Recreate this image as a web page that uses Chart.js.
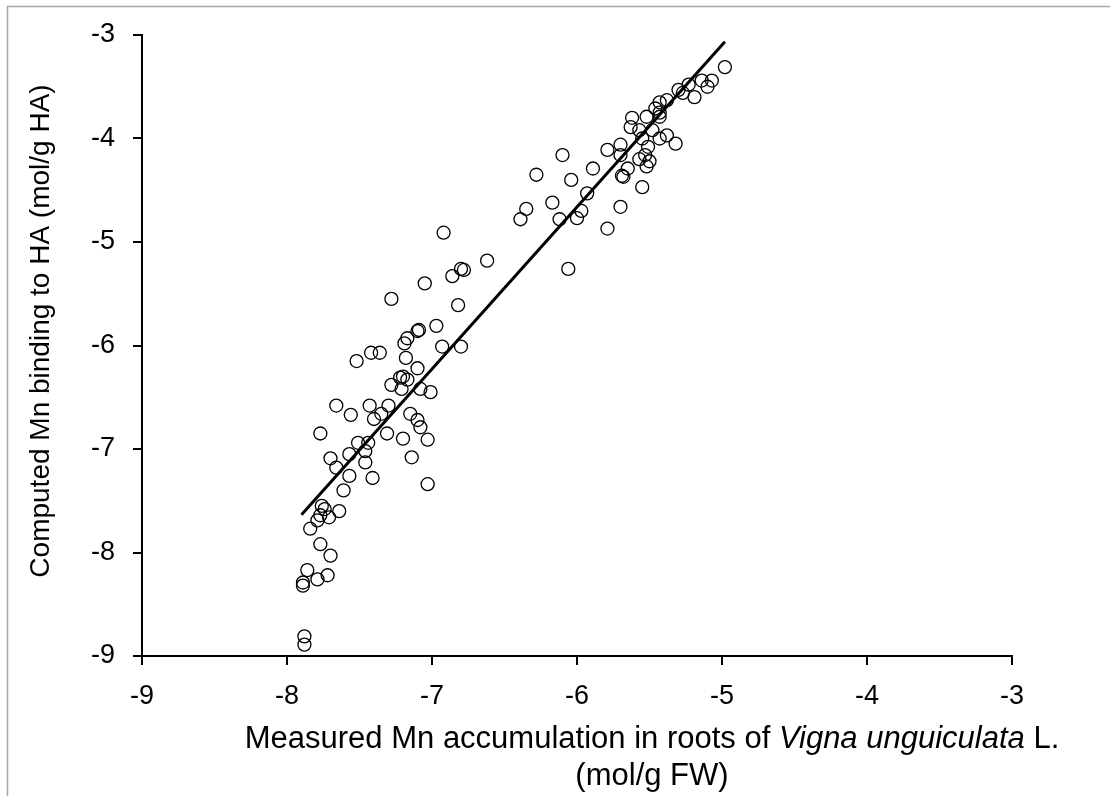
<!DOCTYPE html>
<html>
<head>
<meta charset="utf-8">
<script src="https://cdn.jsdelivr.net/npm/chart.js@4/dist/chart.umd.min.js"></script>
<style>
  html,body{margin:0;padding:0;background:#fff;}
  #wrap{width:1110px;height:796px;position:relative;}
</style>
</head>
<body>
<div id="wrap"><canvas id="chart" width="1110" height="796"></canvas></div>
<script>
// measured Mn in roots (log mol/g FW) vs computed Mn bound to HA (log mol/g HA)
const measured = [
  -7.88,-7.88,-7.89,-7.89,-7.86,-7.79,-7.72,-7.70,-7.77,-7.84,-7.79,-7.77,-7.76,-7.74,-7.71,-7.64,
  -7.61,-7.57,-7.41,-7.66,-7.46,-7.14,-7.70,-7.57,-7.46,-7.51,-7.44,-7.20,-7.03,-7.03,-7.77,-7.31,
  -7.08,-7.10,-7.15,-7.40,-7.35,-7.56,-7.66,-7.43,-7.30,-7.01,-7.08,-7.21,-7.28,-7.22,-7.20,-7.17,
  -7.10,-7.52,-7.18,-7.42,-7.36,-6.93,-6.80,-7.19,-7.17,-7.09,-7.10,-6.97,-6.82,-7.28,-7.05,-6.86,
  -6.80,-6.78,-6.62,-6.92,
  -6.06,-6.35,-6.39,-6.17,-6.12,-5.97,-6.00,-5.70,-5.79,-6.10,-6.28,-6.04,-5.89,-5.93,-5.55,-5.79,
  -5.70,-5.70,-5.65,-5.69,-5.68,-5.53,-5.57,-5.50,-5.52,-5.51,-5.32,-5.43,-5.55,-5.38,-5.57,-5.48,
  -5.63,-5.62,-5.52,-5.43,-5.43,-5.46,-5.43,-5.38,-5.30,-5.27,-5.23,-5.19,-5.14,-5.10,-5.07,-4.98
];
const computed = [
  -8.89,-8.81,-8.32,-8.29,-8.17,-8.26,-8.22,-8.03,-7.92,-7.77,-7.69,-7.64,-7.55,-7.58,-7.66,-7.60,
  -7.40,-7.26,-7.28,-7.18,-7.13,-7.08,-7.09,-7.05,-7.02,-6.94,-6.94,-6.90,-6.91,-7.34,-6.85,-6.85,
  -6.79,-6.72,-6.66,-6.71,-6.66,-6.67,-6.58,-6.58,-6.58,-6.45,-6.42,-6.42,-6.38,-6.31,-6.30,-6.33,
  -6.22,-6.15,-6.12,-6.07,-6.07,-6.01,-6.01,-5.98,-5.93,-5.85,-5.86,-5.81,-5.61,-5.55,-5.40,-5.33,
  -5.26,-5.27,-5.18,-4.91,
  -5.26,-4.68,-4.78,-4.62,-4.78,-4.70,-4.77,-4.66,-4.87,-4.16,-4.35,-4.40,-4.29,-4.53,-4.47,-4.11,
  -4.06,-4.16,-4.29,-4.36,-4.37,-4.16,-4.20,-4.22,-4.27,-4.08,-4.05,-4.00,-4.00,-3.97,-3.92,-3.92,
  -3.89,-3.80,-3.79,-3.79,-3.75,-3.71,-3.65,-3.63,-3.53,-3.56,-3.48,-3.60,-3.44,-3.50,-3.44,-3.31
];
// linear trendline end points
const trendX = [-7.90, -4.98];
const trendY = [-7.635, -3.066];
const xTicks = [-9, -8, -7, -6, -5, -4, -3];
const yTicks = [-9, -8, -7, -6, -5, -4, -3];

const FONT = '"Liberation Sans", Arial, sans-serif';
const xTitle = [
  {t:'Measured Mn accumulation in roots of ', italic:false},
  {t:'Vigna unguiculata', italic:true},
  {t:' L.', italic:false}
];
const xTitle2 = '(mol/g FW)';
const yTitle = 'Computed Mn binding to HA (mol/g HA)';

// frame + axis titles drawn by hand (mixed italic / two lines)
const decor = {
  id:'decor',
  beforeDraw(chart){
    const c = chart.ctx;
    c.save();
    c.fillStyle = '#fff';
    c.fillRect(0,0,chart.width,chart.height);
    c.strokeStyle = '#a6a6a6'; c.lineWidth = 1.5;
    c.beginPath(); c.moveTo(7.5,796); c.lineTo(7.5,6.5); c.lineTo(1110,6.5); c.stroke();
    c.restore();
  },
  afterDraw(chart){
    const c = chart.ctx;
    const cx = 652;
    c.save();
    c.fillStyle = '#000';
    c.textBaseline = 'alphabetic';
    const size = 31;
    let total = 0;
    xTitle.forEach(p=>{ c.font = (p.italic?'italic ':'') + size + 'px ' + FONT; total += c.measureText(p.t).width; });
    let x = cx - total/2;
    c.textAlign = 'left';
    xTitle.forEach(p=>{ c.font = (p.italic?'italic ':'') + size + 'px ' + FONT; c.fillText(p.t, x, 748); x += c.measureText(p.t).width; });
    c.font = size + 'px ' + FONT;
    c.textAlign = 'center';
    c.fillText(xTitle2, cx, 785);
    // y title
    c.translate(41, 331);
    c.rotate(-Math.PI/2);
    c.font = '28px ' + FONT;
    c.textBaseline = 'middle';
    c.fillText(yTitle, 0, 0);
    c.restore();
  }
};

const axis = (ticks, fit)=>({
  type:'linear', min:ticks[0], max:ticks[ticks.length-1],
  afterBuildTicks: s=>{ s.ticks = ticks.map(v=>({value:v})); },
  afterFit: fit,
  grid:{display:true, drawOnChartArea:false, drawTicks:true, tickLength:9, color:'#000', lineWidth:2},
  border:{display:true, color:'#000', width:2},
  title:{display:false}
});

const xAxis = axis(xTicks, s=>{ s.height = 140; });
xAxis.ticks = {color:'#000', font:{family:FONT, size:27}, padding:15, maxRotation:0};
const yAxis = axis(yTicks, s=>{ s.width = 142; });
yAxis.ticks = {color:'#000', font:{family:FONT, size:27}, padding:18};

new Chart(document.getElementById('chart'), {
  type:'scatter',
  data:{
    datasets:[
      {
        label:'trend', type:'line', order:0,
        data: trendX.map((x,i)=>({x, y:trendY[i]})),
        borderColor:'#000', borderWidth:3, pointRadius:0, fill:false, tension:0
      },
      {
        label:'points', order:1,
        data: measured.map((x,i)=>({x, y:computed[i]})),
        pointStyle:'circle', pointRadius:6.5, pointBorderWidth:1.3,
        borderColor:'#000', backgroundColor:'rgba(0,0,0,0)', pointBackgroundColor:'rgba(0,0,0,0)'
      }
    ]
  },
  options:{
    responsive:false, animation:false,
    layout:{padding:{left:0, top:35, right:98, bottom:0}},
    plugins:{legend:{display:false}, tooltip:{enabled:false}},
    scales:{x:xAxis, y:yAxis}
  },
  plugins:[decor]
});
</script>
</body>
</html>
